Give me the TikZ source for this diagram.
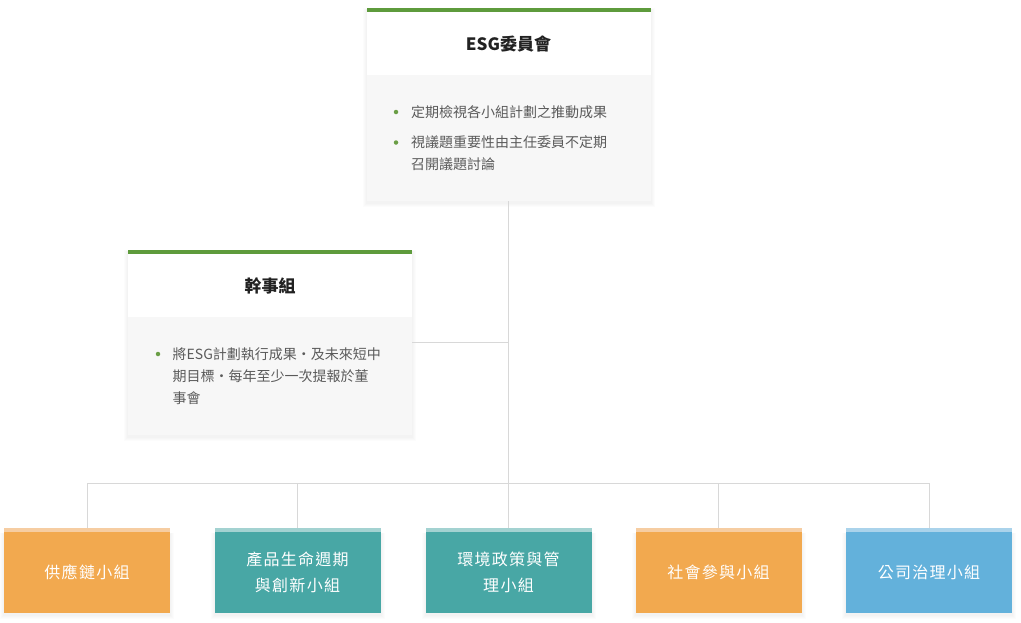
\documentclass[tikz,border=0pt]{standalone}
\usepackage{fontspec}
\setmainfont{Noto Sans CJK TC}
\newfontfamily\grpfont{Noto Sans CJK TC}[LetterSpace=8]
\definecolor{barGreen}{HTML}{5E9B3C}
\definecolor{dotGreen}{HTML}{6A9E45}
\definecolor{bodyGray}{HTML}{F7F7F7}
\definecolor{lineGray}{HTML}{D8D8D8}
\definecolor{txtGray}{HTML}{5A5A5A}
\definecolor{titleBlack}{HTML}{222222}
\definecolor{orangeM}{HTML}{F2A94F}
\definecolor{orangeL}{HTML}{F6CDA2}
\definecolor{tealM}{HTML}{48A7A5}
\definecolor{tealL}{HTML}{A3D2D1}
\definecolor{blueM}{HTML}{63B1DB}
\definecolor{blueL}{HTML}{AAD3EB}
\pgfdeclarelayer{background}
\pgfsetlayers{background,main}
% Taiwan-style centred separator, one em wide
\newcommand\twcomma{\makebox[1em][c]{·}}
% soft blurred shadow around the rectangle spanned by two corners
\newcommand\cardshadow[2]{%
  \begin{pgfonlayer}{background}
    \foreach \i in {1,...,4}{%
      \fill[black, opacity=0.013]
        ([xshift=-\i pt, yshift=-\i pt-2pt]#1) rectangle ([xshift=\i pt, yshift=0.3*\i pt-2pt]#2);
    }
  \end{pgfonlayer}}
\begin{document}
\begin{tikzpicture}[x=1pt,y=-1pt,
  card/.style={rectangle, fill=white, inner sep=0pt, outer sep=0pt},
  cardbody/.style={rectangle, fill=bodyGray, inner sep=0pt, outer sep=0pt},
  cardtitle/.style={inner sep=0pt, font=\bfseries\fontsize{17}{20}\selectfont, text=titleBlack},
  bullettext/.style={anchor=north west, inner sep=0pt, align=left, font=\fontsize{14}{22}\selectfont, text=txtGray},
  bulletdot/.style={circle, fill=dotGreen, inner sep=0pt, minimum size=4.5pt},
  group/.style={rectangle, inner sep=0pt, outer sep=0pt, minimum width=166pt, minimum height=81pt, anchor=north, text=white, align=center, font=\grpfont\fontsize{16}{26}\selectfont},
  conn/.style={draw=lineGray, line width=1pt}
]
\begin{pgfonlayer}{background}
\fill[white] (0,0) rectangle (1021,622);
\end{pgfonlayer}
\useasboundingbox (0,0) rectangle (1021,622);

% ESG committee card
\node[card, anchor=north west, minimum width=284pt, minimum height=193.5pt] (esg) at (366.5,7.5) {};
\cardshadow{esg.south west}{esg.north east}
\fill[barGreen] (esg.north west) rectangle ([yshift=-4pt]esg.north east);
\node[cardbody, anchor=south west, minimum width=284pt, minimum height=126.5pt] (esgB) at (esg.south west) {};
\node[cardtitle] (esgT) at (508.5,44) {ESG委員會};
\node[bulletdot] (d1) at (396,112) {};
\node[bullettext] (t1) at (411,105) {定期檢視各小組計劃之推動成果};
\node[bulletdot] (d2) at (396,142.5) {};
\node[bullettext] (t2) at (411,135.5) {視議題重要性由主任委員不定期\\召開議題討論};

% secretariat card
\node[card, anchor=north west, minimum width=284pt, minimum height=185.5pt] (mgr) at (128,249.5) {};
\cardshadow{mgr.south west}{mgr.north east}
\fill[barGreen] (mgr.north west) rectangle ([yshift=-4pt]mgr.north east);
\node[cardbody, anchor=south west, minimum width=284pt, minimum height=118.5pt] (mgrB) at (mgr.south west) {};
\node[cardtitle] (mgrT) at (270,286) {幹事組};
\node[bulletdot] (d3) at (158,354) {};
\node[bullettext] (t3) at (172.5,347) {將ESG計劃執行成果\twcomma 及未來短中\\期目標\twcomma 每年至少一次提報於董\\事會};

% groups
\node[group, fill=orangeM] (g1) at (87,532) {供應鏈小組};
\node[group, fill=tealM] (g2) at (297.5,532) {產品生命週期\\與創新小組};
\node[group, fill=tealM] (g3) at (508.5,532) {環境政策與管\\理小組};
\node[group, fill=orangeM] (g4) at (718.5,532) {社會參與小組};
\node[group, fill=blueM] (g5) at (929,532) {公司治理小組};
\fill[orangeL] ([yshift=4pt]g1.north west) rectangle (g1.north east);
\fill[tealL] ([yshift=4pt]g2.north west) rectangle (g2.north east);
\fill[tealL] ([yshift=4pt]g3.north west) rectangle (g3.north east);
\fill[orangeL] ([yshift=4pt]g4.north west) rectangle (g4.north east);
\fill[blueL] ([yshift=4pt]g5.north west) rectangle (g5.north east);
\foreach \g in {g1,g2,g3,g4,g5}{\cardshadow{\g.south west}{\g.north east}}

% connectors
\coordinate (bus) at (0,483);
\coordinate (midY) at (0,342);
\draw[conn] (esgB.south) -- ([yshift=4pt]g3.north);
\draw[conn] (mgrB.east |- midY) -- (esgB.south |- midY);
\draw[conn] ([yshift=4pt]g1.north) -- (g1.north |- bus) -- (g5.north |- bus) -- ([yshift=4pt]g5.north);
\draw[conn] ([yshift=4pt]g2.north) -- (g2.north |- bus);
\draw[conn] ([yshift=4pt]g4.north) -- (g4.north |- bus);
\end{tikzpicture}
\end{document}
